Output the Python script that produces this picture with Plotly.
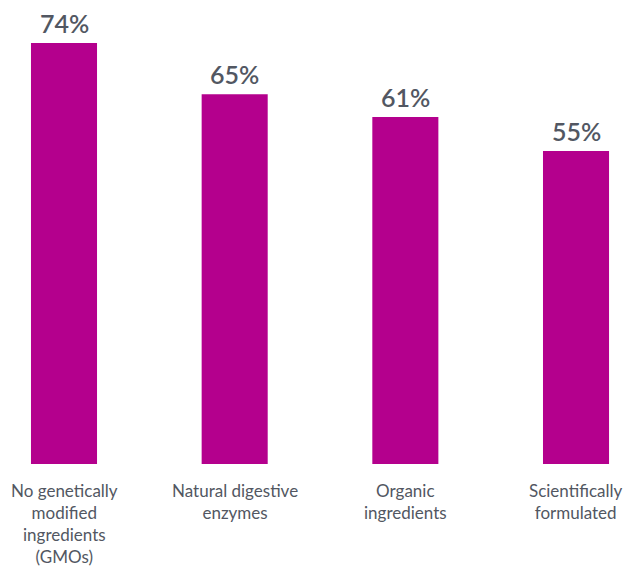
import plotly.graph_objects as go

categories = ["No genetically<br>modified<br>ingredients<br>(GMOs)",
              "Natural digestive<br>enzymes",
              "Organic<br>ingredients",
              "Scientifically<br>formulated"]
values = [74, 65, 61, 55]
value_labels = ["74%", "65%", "61%", "55%"]

bar_color = "#b4008d"
text_color = "#525762"
xs = list(range(len(categories)))

fig = go.Figure(go.Bar(x=xs, y=values, width=0.387, marker=dict(color=bar_color, line=dict(width=0)),
                       hoverinfo="skip"))

annotations = []
for x, v, lab in zip(xs, values, value_labels):
    annotations.append(dict(x=x, y=v, xref="x", yref="y", text=lab, showarrow=False,
                            yanchor="bottom", yshift=3,
                            font=dict(family="Lato", size=25, color=text_color, weight=600)))
for x, c in zip(xs, categories):
    annotations.append(dict(x=x, y=0, xref="x", yref="y", text=c, showarrow=False,
                            yanchor="top", yshift=-14, align="center",
                            font=dict(family="Lato", size=17, color=text_color)))

fig.update_layout(
    width=625, height=569,
    margin=dict(l=0, r=0, t=0, b=105),
    paper_bgcolor="white", plot_bgcolor="white",
    showlegend=False,
    xaxis=dict(range=[-0.375, 3.287], showticklabels=False, showgrid=False, zeroline=False, showline=False),
    yaxis=dict(range=[0, 81.56], showticklabels=False, showgrid=False, zeroline=False, showline=False),
    annotations=annotations,
)

fig.write_html("out.html", config={"displayModeBar": False},
               post_script="document.body.style.margin='0';document.body.style.overflow='hidden';")
